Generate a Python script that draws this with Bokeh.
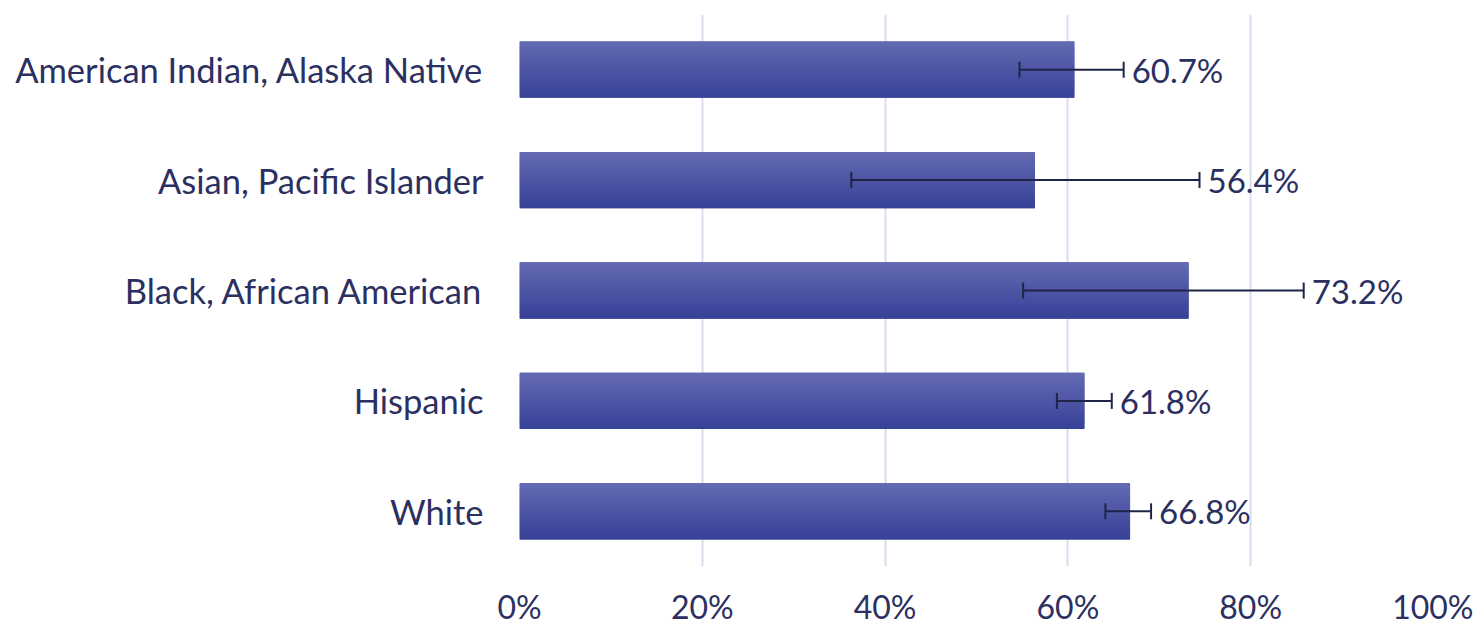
from bokeh.plotting import figure
from bokeh.models import FactorRange, Range1d, FixedTicker, NumeralTickFormatter, ColumnDataSource, Whisker, TeeHead
from bokeh.transform import dodge
from bokeh.embed import file_html
from bokeh.resources import INLINE
from bokeh.core.properties import value

categories = ["American Indian, Alaska Native", "Asian, Pacific Islander",
              "Black, African American", "Hispanic", "White"]
values = [0.607, 0.564, 0.732, 0.618, 0.668]
err_low = [0.547, 0.363, 0.551, 0.588, 0.641]
err_high = [0.661, 0.744, 0.858, 0.648, 0.691]
labels = ["60.7%", "56.4%", "73.2%", "61.8%", "66.8%"]
x_ticks = [0, 0.2, 0.4, 0.6, 0.8, 1.0]

FONT = "Lato"
TXT = "#2b3061"

p = figure(frame_width=914, frame_height=552, output_backend="svg", toolbar_location=None,
           y_range=FactorRange(factors=list(reversed(categories)), range_padding=0),
           x_range=Range1d(0, 1.0),
           min_border_left=519, min_border_right=40, min_border_top=14, min_border_bottom=10)
p.outline_line_color = None
p.ygrid.grid_line_color = None
p.xgrid.grid_line_color = "#dadcee"
p.xgrid.grid_line_width = 2
p.xaxis.ticker = FixedTicker(ticks=x_ticks)
p.xaxis.formatter = NumeralTickFormatter(format="0%")
for ax in (p.xaxis[0], p.yaxis[0]):
    ax.axis_line_color = None
    ax.major_tick_line_color = None
    ax.minor_tick_line_color = None
    ax.major_tick_out = 0
    ax.major_tick_in = 0
    ax.major_label_text_font = FONT
    ax.major_label_text_color = TXT
p.yaxis.major_label_text_font_size = "34.5px"
p.xaxis.major_label_text_font_size = "32px"
p.yaxis.major_label_standoff = 36
p.xaxis.major_label_standoff = 20

src = ColumnDataSource(dict(cat=categories, val=values, lo=err_low, hi=err_high, lab=labels))

# gradient bars: a solid base plus overlapping thin slices
bar_h = 0.51
p.hbar(y="cat", right="val", left=0, height=bar_h, source=src,
       fill_color="#4a54a6", line_color=None)
n = 20
top = (100, 106, 178)
bot = (56, 66, 152)
for k in range(n):
    t = k / (n - 1)
    c = tuple(int(round(top[i] + (bot[i] - top[i]) * t)) for i in range(3))
    sh = bar_h / n
    off = bar_h / 2 - (k + 0.5) * sh
    hh = sh * 1.8
    if k == 0:
        off, hh = bar_h / 2 - sh * 0.5, sh
    if k == n - 1:
        off, hh = -bar_h / 2 + sh * 0.5, sh
    p.hbar(y=dodge("cat", off, range=p.y_range), right="val", left=0, height=hh,
           source=src, fill_color="#%02x%02x%02x" % c, line_color=None)

w = Whisker(base="cat", lower="lo", upper="hi", dimension="width", source=src,
            line_color="#1f2547", line_width=2, level="overlay",
            lower_head=TeeHead(size=16, line_color="#1f2547", line_width=2),
            upper_head=TeeHead(size=16, line_color="#1f2547", line_width=2))
p.add_layout(w)

p.text(x="hi", y="cat", text="lab", source=src, x_offset=8, text_baseline="middle",
       text_align="left", text_font=value(FONT), text_font_size="33px", text_color=TXT)

open("out.html", "w").write(file_html(p, INLINE))
